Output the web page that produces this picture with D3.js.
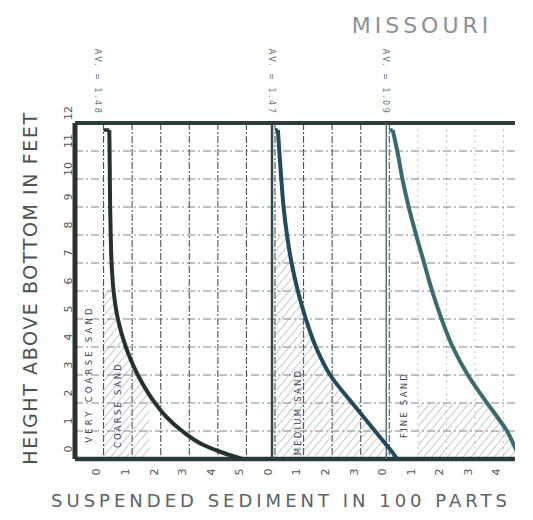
<!DOCTYPE html>
<html>
<head>
<meta charset="utf-8">
<script src="https://cdn.jsdelivr.net/npm/d3@7"></script>
<style>
body{margin:0;background:#fff;}
svg{display:block;}
text{font-family:"DejaVu Sans",sans-serif;}
</style>
</head>
<body>
<svg id="chart" width="533" height="520"></svg>
<script>
// heights above bottom (feet) and the three sediment curves (parts in 100)
var heights = [11.75, 11.75, 11, 10, 9, 8, 7, 6, 5, 4, 3, 2, 1.5, 1, 0.5, 0.25, 0];
var coarseVals = [0, 0.2, 0.21, 0.22, 0.23, 0.25, 0.28, 0.35, 0.5, 0.78, 1.2, 1.8, 2.2, 2.75, 3.5, 4.1, 4.85];
var mediumVals = [0, 0.1, 0.15, 0.22, 0.3, 0.42, 0.58, 0.8, 1.08, 1.43, 1.93, 2.7, 3.1, 3.5, 3.9, 4.1, 4.27];
var fineVals = [0, 0.12, 0.28, 0.46, 0.68, 0.94, 1.22, 1.5, 1.83, 2.22, 2.75, 3.42, 3.78, 4.12, 4.36, 4.47, 4.55];
var panelOffset = [1, 7, 11];
var panelTicks = [[0, 1, 2, 3, 4, 5], [0, 1, 2, 3], [0, 1, 2, 3, 4]];
var heightTicks = d3.range(0, 13);
var bandNames = ["VERY COARSE SAND", "COARSE SAND", "MEDIUM SAND", "FINE SAND"];
var topNotes = ["AV. = 1.48", "AV. = 1.47", "AV. = 1.09"];

var svg = d3.select("#chart");
var gridX = d3.scaleLinear().domain([0, 15.4]).range([75, 515]);
var y = d3.scaleLinear().domain([0, 12]).range([459, 123]);

var defs = svg.append("defs");
var pat = defs.append("pattern").attr("id", "hatch").attr("patternUnits", "userSpaceOnUse")
  .attr("width", 6).attr("height", 6).attr("patternTransform", "rotate(40)");
pat.append("line").attr("x1", 0).attr("y1", 0).attr("x2", 0).attr("y2", 6)
  .attr("stroke", "#8a989a").attr("stroke-width", 1);
defs.append("clipPath").attr("id", "plot").append("rect")
  .attr("x", gridX(0)).attr("y", y(12)).attr("width", gridX(15.4) - gridX(0)).attr("height", y(0) - y(12));

var g = svg.append("g");

// grid
var gx = d3.range(1, 16);
g.selectAll("line.vg").data(gx).join("line").attr("class", "vg")
  .attr("x1", function(d){return gridX(d);}).attr("x2", function(d){return gridX(d);})
  .attr("y1", y(12)).attr("y2", y(0))
  .attr("stroke", function(d){return d > 11 ? "#a8b4b6" : "#4a5552";})
  .attr("stroke-width", function(d){return d > 11 ? 0.8 : 1.1;})
  .attr("stroke-dasharray", function(d){return d > 11 ? "2,4" : "7,2,2,2";});
g.selectAll("line.hg").data(heightTicks.slice(1, 12)).join("line").attr("class", "hg")
  .attr("x1", gridX(0)).attr("x2", gridX(15.4))
  .attr("y1", function(d){return y(d);}).attr("y2", function(d){return y(d);})
  .attr("stroke", "#56605e").attr("stroke-width", 1).attr("stroke-dasharray", "8,3,2,3").attr("opacity", 0.75);

// hatched areas
function hatchArea(vals, off, lo, hi, minH, maxH) {
  var pts = heights.map(function(h, i){return [h, vals[i]];})
    .filter(function(p){return p[0] <= maxH && p[0] >= minH && p[1] > 0;});
  var a = d3.area().curve(d3.curveMonotoneY)
    .y(function(p){return y(p[0]);})
    .x0(function(){return gridX(off + lo);})
    .x1(function(p){return gridX(off + Math.max(lo, Math.min(hi, p[1])));});
  g.append("path").datum(pts).attr("d", a).attr("fill", "url(#hatch)").attr("clip-path", "url(#plot)");
}
hatchArea(coarseVals, panelOffset[0], 0, 1.6, 0, 6);
hatchArea(mediumVals, panelOffset[1], 0, 5, 0, 8);
hatchArea(fineVals, panelOffset[2], 1, 5, 0, 2.2);

// frame
g.append("line").attr("x1", gridX(0)).attr("x2", gridX(15.4)).attr("y1", y(12)).attr("y2", y(12))
  .attr("stroke", "#2f3d3c").attr("stroke-width", 4);
g.append("line").attr("x1", gridX(0)).attr("x2", gridX(15.4)).attr("y1", y(0)).attr("y2", y(0))
  .attr("stroke", "#2a3a3c").attr("stroke-width", 4.5);
g.append("line").attr("x1", gridX(0)).attr("x2", gridX(0)).attr("y1", y(12)).attr("y2", y(0))
  .attr("stroke", "#2a3230").attr("stroke-width", 5);
g.append("line").attr("x1", gridX(panelOffset[1]) - 3).attr("x2", gridX(panelOffset[1]) - 3).attr("y1", y(12)).attr("y2", y(0))
  .attr("stroke", "#33484c").attr("stroke-width", 2.5);
g.append("line").attr("x1", gridX(panelOffset[2]) - 3).attr("x2", gridX(panelOffset[2]) - 3).attr("y1", y(12)).attr("y2", y(0))
  .attr("stroke", "#5a7276").attr("stroke-width", 1.5);

// curves
var series = [coarseVals, mediumVals, fineVals];
var colors = ["#25332f", "#24495a", "#3b6a70"];
series.forEach(function(vals, k){
  var line = d3.line().curve(d3.curveMonotoneY)
    .x(function(d){return gridX(panelOffset[k] + d[1]);})
    .y(function(d){return y(d[0]);});
  var pts = heights.map(function(h, i){return [h, vals[i]];});
  g.append("path").datum(pts.slice(1)).attr("d", line).attr("fill", "none")
    .attr("stroke", colors[k]).attr("stroke-width", 4).attr("clip-path", "url(#plot)");
  g.append("path").datum(pts.slice(0, 2)).attr("d", d3.line().x(function(d){return gridX(panelOffset[k] + d[1]);}).y(function(d){return y(d[0]);}))
    .attr("stroke", colors[k]).attr("stroke-width", 3.5).attr("fill", "none");
});

// tick labels
panelTicks.forEach(function(ticks, k){
  g.selectAll("text.xt" + k).data(ticks).join("text").attr("class", "xt" + k)
    .attr("transform", function(d){return "translate(" + (gridX(panelOffset[k] + d) - 7) + ",472) rotate(-90)";})
    .attr("text-anchor", "middle").attr("dy", "0.35em")
    .attr("font-size", 11).attr("fill", "#4d5756").text(function(d){return d;});
});
g.selectAll("text.yt").data(heightTicks).join("text").attr("class", "yt")
  .attr("transform", function(d){return "translate(68," + (y(d) - 10) + ") rotate(-90)";})
  .attr("text-anchor", "middle").attr("dy", "0.35em")
  .attr("font-size", 11).attr("fill", "#4d5756").text(function(d){return d;});

// band labels in strips
var bandPos = [[0.5, 374, 3.2], [1.5, 405, 2.2], [7.8, 412, 2.2], [11.5, 405, 2.2]];
bandNames.forEach(function(name, i){
  g.append("text").attr("transform", "translate(" + gridX(bandPos[i][0]) + "," + bandPos[i][1] + ") rotate(-90)")
    .attr("text-anchor", "middle").attr("dy", "0.35em").attr("font-size", 8.5).attr("fill", "#445")
    .attr("letter-spacing", bandPos[i][2]).text(name);
});

// notes over the top frame
var notePos = [gridX(1) - 6, gridX(7) - 3, gridX(11) - 3];
topNotes.forEach(function(t, i){
  g.append("text").attr("transform", "translate(" + notePos[i] + ",82) rotate(90)")
    .attr("text-anchor", "middle").attr("dy", "0.35em").attr("font-size", 8).attr("fill", "#6a7474")
    .attr("letter-spacing", 2.5).text(t);
});

// titles
svg.append("text").attr("x", 422).attr("y", 33).attr("text-anchor", "middle")
  .attr("font-size", 22).attr("letter-spacing", 4).attr("fill", "#8a9294").text("MISSOURI");
svg.append("text").attr("transform", "translate(30,288) rotate(-90)").attr("text-anchor", "middle")
  .attr("dy", "0.35em").attr("font-size", 19).attr("letter-spacing", 1.6).attr("fill", "#4a5453")
  .text("HEIGHT ABOVE BOTTOM IN FEET");
svg.append("text").attr("x", 281).attr("y", 507).attr("text-anchor", "middle")
  .attr("font-size", 18).attr("letter-spacing", 4).attr("fill", "#5a6463")
  .text("SUSPENDED SEDIMENT IN 100 PARTS");
</script>
</body>
</html>
